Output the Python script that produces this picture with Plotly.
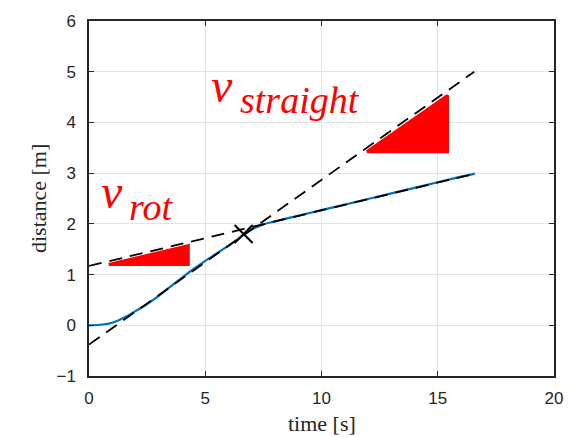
import plotly.graph_objects as go

# measured trajectory
time_s = [0, 0.5, 1.0, 1.5, 2.0, 2.5, 3.0, 3.5, 4.0, 4.5, 5.0, 5.5, 6.0, 6.5, 7.0, 7.5,
          8.0, 9.0, 10.0, 11.0, 12.0, 13.0, 14.0, 15.0, 16.0, 16.6]
distance_m = [0, 0.01, 0.05, 0.15, 0.28, 0.42, 0.58, 0.76, 0.94, 1.11, 1.27, 1.42, 1.57,
              1.73, 1.89, 1.99, 2.05, 2.16, 2.27, 2.38, 2.49, 2.60, 2.71, 2.82, 2.93, 2.99]

# fitted straight-line segments
straight_t = [0, 16.57]
straight_d = [-0.38, 5.0]
rot_t = [0, 16.6]
rot_d = [1.17, 2.99]

# crossing marker
cross_t = [6.65]
cross_d = [1.8]

# slope triangles
tri_rot_t = [0.85, 4.27, 4.27, 0.85]
tri_rot_d = [1.2, 1.2, 1.57, 1.2]
tri_str_t = [11.95, 15.42, 15.42, 11.95]
tri_str_d = [3.42, 3.42, 4.53, 3.42]

# labels: symbol and subscript
label_main = "v"
sub_rot = "rot"
sub_str = "straight"
pos_main_rot = (0.43, 2.64)
pos_sub_rot = (1.62, 2.33)
pos_main_str = (5.16, 4.73)
pos_sub_str = (6.42, 4.44)

x_ticks = [0, 5, 10, 15, 20]
y_ticks = [-1, 0, 1, 2, 3, 4, 5, 6]

fig = go.Figure()
for tt, dd in [(tri_rot_t, tri_rot_d), (tri_str_t, tri_str_d)]:
    fig.add_trace(go.Scatter(x=tt, y=dd, mode="lines", fill="toself",
                             fillcolor="#ff0000", line=dict(color="#ff0000", width=3),
                             hoverinfo="skip", showlegend=False))
fig.add_trace(go.Scatter(x=time_s, y=distance_m, mode="lines",
                         line=dict(color="#0072BD", width=2.2, shape="spline"),
                         showlegend=False))
for tt, dd in [(straight_t, straight_d), (rot_t, rot_d)]:
    fig.add_trace(go.Scatter(x=tt, y=dd, mode="lines",
                             line=dict(color="black", width=1.8, dash="13px,8px"),
                             showlegend=False))
fig.add_trace(go.Scatter(x=cross_t, y=cross_d, mode="markers",
                         marker=dict(symbol="x-thin-open", size=18, color="black",
                                     line=dict(color="black", width=2)),
                         showlegend=False))

serif = "Liberation Serif, serif"
for (px, py), txt, sz in [(pos_main_rot, label_main, 48), (pos_sub_rot, sub_rot, 38),
                          (pos_main_str, label_main, 48), (pos_sub_str, sub_str, 38)]:
    fig.add_annotation(x=px, y=py, text="<i>" + txt + "</i>", showarrow=False,
                       xanchor="left", yanchor="middle",
                       font=dict(family=serif, size=sz, color="#ff0000"))

fig.add_annotation(xref="paper", yref="paper", x=0.5, y=-0.133, text="time [s]",
                   showarrow=False, xanchor="center", yanchor="middle",
                   font=dict(family=serif, size=22, color="#262626"))
fig.add_annotation(xref="paper", yref="paper", x=-0.1085, y=0.5, text="distance [m]",
                   showarrow=False, xanchor="center", yanchor="middle", textangle=-90,
                   font=dict(family=serif, size=22, color="#262626"))

axis_common = dict(showgrid=True, gridcolor="#e3e3e3", gridwidth=1,
                   showline=True, linecolor="#262626", linewidth=1.5, mirror="allticks",
                   ticks="inside", ticklen=5, tickcolor="#262626", tickwidth=1,
                   zeroline=False,
                   tickfont=dict(family="Arial, Liberation Sans, sans-serif", size=17, color="#262626"))
fig.update_xaxes(range=[0, 20], tickvals=x_ticks, ticklabelstandoff=6, **axis_common)
fig.update_yaxes(range=[-1, 6], tickvals=y_ticks, ticklabelstandoff=8, **axis_common)

fig.update_layout(width=575, height=437, margin=dict(l=89, r=16, t=15, b=61),
                  plot_bgcolor="white", paper_bgcolor="white")
fig.write_html("out.html")
